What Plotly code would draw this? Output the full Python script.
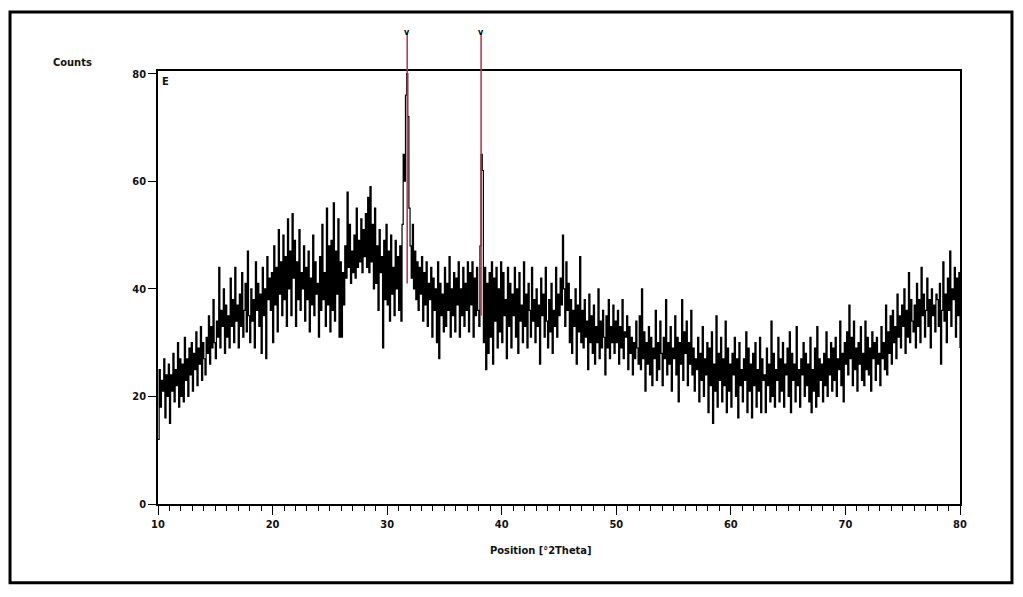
import plotly.graph_objects as go

# ---- data ----
x_start = 10.0
x_step = 0.1
counts = [
    12, 25, 18, 23, 21, 27, 16, 24, 20, 26,
    15, 24, 21, 28, 19, 25, 22, 30, 18, 27,
    20, 26, 19, 31, 23, 27, 20, 29, 24, 30,
    21, 28, 25, 32, 22, 29, 26, 33, 23, 30,
    27, 24, 31, 28, 35, 26, 33, 29, 38, 30,
    27, 34, 31, 44, 29, 36, 33, 40, 28, 37,
    31, 35, 29, 42, 33, 38, 30, 44, 34, 37,
    29, 39, 33, 43, 31, 36, 41, 32, 47, 35,
    30, 40, 34, 38, 29, 45, 36, 41, 33, 39,
    28, 44, 35, 40, 27, 46, 38, 42, 36, 43,
    30, 48, 37, 44, 32, 51, 39, 45, 35, 50,
    38, 46, 33, 53, 40, 47, 35, 54, 42, 49,
    33, 45, 38, 51, 36, 43, 40, 48, 34, 44,
    38, 47, 32, 42, 37, 50, 35, 45, 39, 41,
    31, 46, 36, 52, 38, 43, 33, 55, 37, 48,
    32, 49, 36, 56, 34, 47, 39, 53, 31, 45,
    31, 43, 37, 48, 42, 58, 44, 52, 41, 47,
    43, 50, 42, 55, 44, 49, 45, 53, 43, 51,
    46, 54, 44, 57, 43, 59, 45, 52, 40, 55,
    41, 48, 36, 51, 43, 46, 29, 49, 38, 52,
    37, 47, 34, 50, 39, 44, 35, 49, 40, 46,
    36, 48, 34, 52, 65, 60, 76, 80, 72, 55,
    48, 42, 52, 40, 47, 38, 45, 36, 44, 39,
    46, 34, 43, 37, 45, 33, 41, 38, 44, 31,
    42, 36, 40, 30, 45, 27, 41, 35, 39, 32,
    44, 33, 41, 36, 46, 31, 40, 35, 43, 32,
    42, 37, 45, 31, 40, 35, 44, 33, 41, 36,
    45, 32, 43, 37, 45, 31, 42, 35, 44, 36,
    33, 48, 65, 62, 30, 44, 25, 41, 28, 43,
    31, 45, 26, 42, 34, 44, 29, 40, 32, 45,
    30, 43, 35, 38, 27, 44, 33, 41, 29, 39,
    35, 44, 31, 40, 28, 43, 34, 37, 30, 45,
    33, 39, 29, 41, 36, 31, 44, 34, 38, 30,
    40, 33, 37, 26, 42, 35, 39, 31, 44, 34,
    29, 38, 32, 41, 28, 36, 33, 44, 31, 39,
    35, 42, 37, 50, 40, 33, 45, 36, 41, 30,
    38, 28, 36, 33, 40, 26, 37, 32, 46, 30,
    36, 29, 38, 31, 34, 25, 39, 30, 35, 28,
    37, 26, 33, 30, 40, 27, 34, 29, 36, 31,
    24, 35, 29, 38, 27, 33, 30, 37, 28, 34,
    30, 36, 26, 33, 29, 38, 27, 32, 31, 35,
    25, 33, 28, 31, 24, 30, 27, 34, 29, 26,
    35, 25, 40, 27, 32, 21, 30, 26, 33, 24,
    31, 22, 29, 27, 36, 23, 30, 25, 34, 28,
    22, 31, 27, 38, 24, 30, 26, 33, 21, 29,
    27, 35, 24, 31, 19, 30, 26, 38, 23, 32,
    28, 34, 22, 30, 26, 36, 24, 29, 21, 27,
    25, 31, 19, 28, 23, 33, 20, 27, 24, 30,
    17, 29, 22, 32, 15, 26, 21, 35, 18, 28,
    23, 31, 19, 27, 22, 34, 17, 29, 21, 26,
    18, 28, 24, 31, 20, 27, 16, 30, 22, 25,
    19, 27, 23, 32, 17, 29, 21, 26, 16, 28,
    22, 30, 18, 25, 21, 31, 17, 27, 23, 24,
    17, 29, 22, 26, 19, 34, 20, 28, 18, 25,
    23, 31, 19, 27, 21, 30, 18, 26, 24, 29,
    20, 32, 17, 28, 23, 26, 19, 33, 22, 25,
    18, 27, 24, 30, 20, 28, 22, 26, 19, 31,
    17, 25, 21, 29, 18, 33, 20, 27, 23, 26,
    19, 28, 22, 32, 20, 27, 24, 30, 21, 29,
    23, 31, 20, 27, 25, 34, 22, 28, 19, 30,
    26, 32, 24, 37, 27, 31, 22, 34, 25, 29,
    21, 30, 26, 33, 23, 28, 22, 34, 25, 31,
    24, 29, 21, 32, 27, 30, 23, 31, 26, 28,
    22, 33, 27, 30, 25, 37, 24, 32, 28, 35,
    26, 36, 30, 33, 27, 39, 31, 35, 29, 37,
    33, 40, 28, 36, 31, 43, 30, 38, 34, 32,
    37, 29, 41, 33, 38, 30, 44, 35, 39, 31,
    36, 42, 33, 38, 29, 40, 35, 37, 32, 39,
    38, 33, 41, 26, 36, 45, 34, 39, 30, 42,
    36, 47, 33, 40, 38, 44, 31, 42, 35, 43,
    29,
]
positions = [round(x_start + i * x_step, 2) for i in range(len(counts))]

peak_pos = [31.75, 38.2]
peak_base = [41, 35]

x_ticks = [10, 20, 30, 40, 50, 60, 70, 80]
y_ticks = [0, 20, 40, 60, 80]
y_range = [0, 80.5]

FONT = "DejaVu Sans Condensed, Liberation Sans Narrow, Arial Narrow, Liberation Sans"
RED = "#b5304a"
TXT = dict(family=FONT, size=11, color="#111111", weight="bold")

fig = go.Figure()
fig.add_trace(go.Scatter(
    x=positions, y=counts, mode="lines",
    line=dict(color="black", width=1.2, shape="hv"),
    showlegend=False, hoverinfo="skip",
))
for p, b in zip(peak_pos, peak_base):
    # part inside the plot
    fig.add_trace(go.Scatter(
        x=[p, p], y=[b, y_range[1]], mode="lines",
        line=dict(color=RED, width=1.5),
        showlegend=False, hoverinfo="skip",
    ))
    # part above the plot frame
    fig.add_shape(type="line", xref="x", yref="paper", x0=p, x1=p, y0=1.0, y1=1.085,
                  line=dict(color=RED, width=1.5))
    fig.add_annotation(x=p, xref="x", yref="paper", y=1.083, text="v", showarrow=False,
                       yanchor="bottom", yshift=-4,
                       font=dict(family=FONT, size=9, color="black"))

fig.update_layout(
    width=1015, height=589,
    margin=dict(l=150, r=63, t=63, b=93),
    paper_bgcolor="white", plot_bgcolor="white",
    font=TXT,
    xaxis=dict(
        range=[10, 80], tickvals=x_ticks, ticktext=[str(v) for v in x_ticks],
        showline=True, linecolor="black", linewidth=1.5, mirror=True,
        ticks="outside", ticklen=9, tickwidth=1.3, tickcolor="black",
        minor=dict(dtick=1, ticks="outside", ticklen=5, tickcolor="black", tickwidth=1),
        showgrid=False, zeroline=False,
        tickfont=TXT,
    ),
    yaxis=dict(
        range=y_range, tickvals=y_ticks, ticktext=[str(v) for v in y_ticks],
        showline=True, linecolor="black", linewidth=1.5, mirror=True,
        ticks="outside", ticklen=8, tickwidth=1.3, tickcolor="black",
        showgrid=False, zeroline=False,
        tickfont=TXT,
    ),
)

# outer frame
fig.add_shape(type="rect", xref="paper", yref="paper",
              x0=-0.1845, x1=1.0648, y0=-0.182, y1=1.136,
              line=dict(color="black", width=3), layer="below")

fig.add_annotation(xref="paper", yref="paper", x=-0.106, y=1.02,
                   text="Counts", showarrow=False, xanchor="center", yanchor="middle",
                   font=TXT)
fig.add_annotation(xref="paper", yref="paper", x=0.477, y=-0.107,
                   text="Position [°2Theta]", showarrow=False, xanchor="center", yanchor="middle",
                   font=TXT)
fig.add_annotation(xref="paper", yref="paper", x=0.003, y=0.995,
                   text="E", showarrow=False, xanchor="left", yanchor="top",
                   font=TXT)

fig.write_html("out.html")
